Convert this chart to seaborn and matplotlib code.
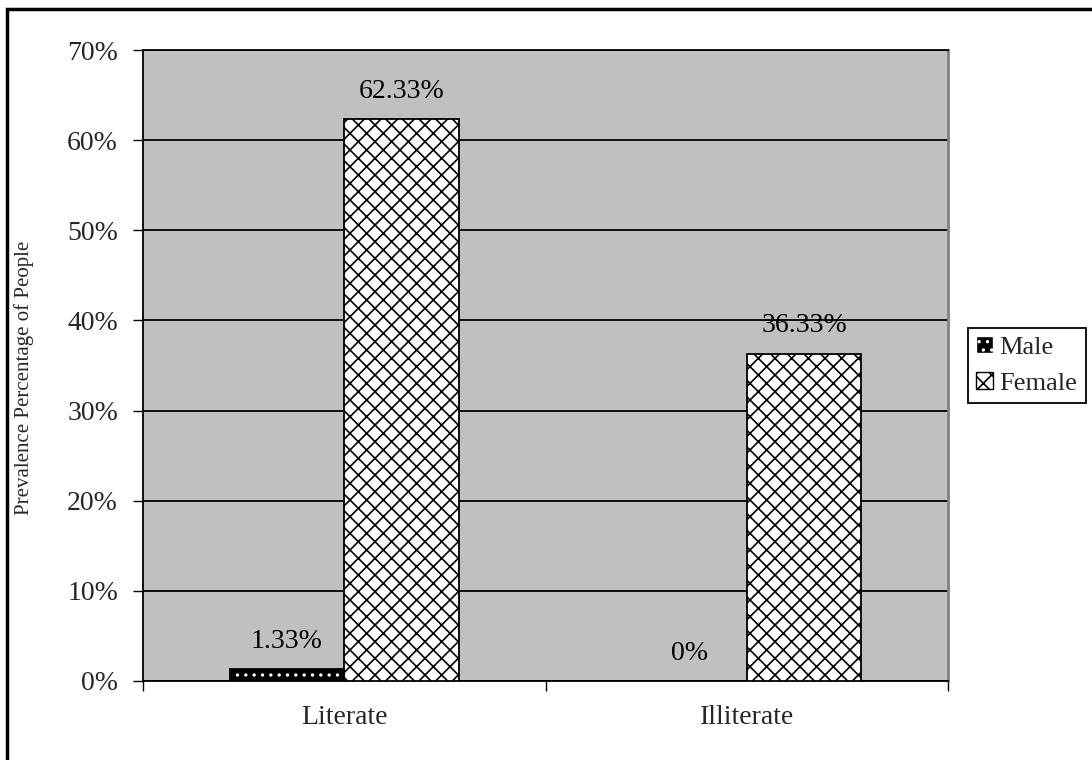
import matplotlib
matplotlib.use("Agg")
import matplotlib.pyplot as plt
from matplotlib.patches import Rectangle, Patch
import seaborn as sns
import pandas as pd

# Literacy prevalence by gender (percent of people)
categories = ["Literate", "Illiterate"]
genders = ["Male", "Female"]
male_values = [1.33, 0.0]
female_values = [62.33, 36.33]
value_labels_male = ["1.33%", "0%"]
value_labels_female = ["62.33%", "36.33%"]
y_ticks = [0, 10, 20, 30, 40, 50, 60, 70]
y_tick_labels = ["0%", "10%", "20%", "30%", "40%", "50%", "60%", "70%"]

df = pd.DataFrame({
    "Literacy": categories * 2,
    "Gender": ["Male"] * len(categories) + ["Female"] * len(categories),
    "Percent": male_values + female_values,
})

sns.set_theme(style="white")
plt.rcParams["font.family"] = ["Liberation Serif", "DejaVu Serif"]
plt.rcParams["hatch.linewidth"] = 1.2

FS = 20

fig = plt.figure(figsize=(10.92, 7.6), dpi=100)
ax = fig.add_axes([143 / 1092, 1 - 681 / 760, 805 / 1092, 631 / 760])
ax.set_facecolor("#C0C0C0")

sns.barplot(data=df, x="Literacy", y="Percent", hue="Gender", order=categories,
            hue_order=genders, palette={"Male": "black", "Female": "white"},
            width=0.57, ax=ax, legend=False, zorder=3, errorbar=None)

# Pattern fills: dotted black for Male, crosshatch for Female
bars_by_gender = {}
for container, g in zip(ax.containers, genders):
    bars_by_gender[g] = list(container)
    for p in container:
        if g == "Male":
            p.set_facecolor("black")
            p.set_edgecolor("white")
            p.set_hatch("..")
        else:
            p.set_facecolor("white")
            p.set_edgecolor("black")
            p.set_hatch("xx")
        p.set_linewidth(0)
        if p.get_height() > 0:
            ax.add_patch(Rectangle(p.get_xy(), p.get_width(), p.get_height(),
                                   fill=False, edgecolor="black", linewidth=1.3,
                                   zorder=4))

# Value labels above bars
for g, labels in (("Male", value_labels_male), ("Female", value_labels_female)):
    for p, txt in zip(bars_by_gender[g], labels):
        ax.annotate(txt, (p.get_x() + p.get_width() / 2, p.get_height()),
                    xytext=(0, 20), textcoords="offset points",
                    ha="center", va="center", fontsize=FS, color="black",
                    zorder=0.4)

ax.set_ylim(0, 70)
ax.set_xlim(-0.5, 1.5)
ax.set_yticks(y_ticks)
ax.set_yticklabels(y_tick_labels, fontsize=FS)
ax.set_axisbelow(True)
ax.yaxis.grid(True, color="black", linewidth=1.3)
ax.xaxis.grid(False)

ax.set_xticks(range(len(categories)))
ax.set_xticklabels(categories, fontsize=FS)
ax.set_xticks([-0.5, 0.5, 1.5], minor=True)
ax.tick_params(axis="x", which="major", length=0, pad=17)
ax.tick_params(axis="x", which="minor", length=7, width=1, color="black",
               direction="out", bottom=True)
ax.tick_params(axis="y", which="major", length=7, width=1, color="black",
               direction="out", left=True, pad=11)

ax.set_xlabel("")
ax.set_ylabel("Prevalence Percentage of People", fontsize=15)
ax.yaxis.set_label_coords(-0.135, 0.48)

for side in ("left", "bottom", "top"):
    ax.spines[side].set_visible(True)
    ax.spines[side].set_color("black")
    ax.spines[side].set_linewidth(1.3)
ax.spines["right"].set_visible(True)
ax.spines["right"].set_color("#808080")
ax.spines["right"].set_linewidth(2)

handles = [Patch(facecolor="black", edgecolor="white", hatch="..", label="Male"),
           Patch(facecolor="white", edgecolor="black", hatch="xx", label="Female")]
leg = fig.legend(handles=handles, loc="center left",
                 bbox_to_anchor=(968 / 1092, 1 - 365.5 / 760),
                 fontsize=19, frameon=True, fancybox=False, framealpha=1,
                 edgecolor="black", handlelength=0.62, handleheight=0.62,
                 handletextpad=0.25, borderpad=0.32, labelspacing=0.5,
                 borderaxespad=0)
leg.get_frame().set_linewidth(1.3)

# Outer frame of the chart area (continues past the right and bottom edges)
fig.patches.append(Rectangle((7 / 1092, -0.1), 1.2, 1.1 - 9 / 760,
                             transform=fig.transFigure, fill=False,
                             edgecolor="black", linewidth=2.5, zorder=10))

fig.savefig("out.png", dpi=100, facecolor="white")
